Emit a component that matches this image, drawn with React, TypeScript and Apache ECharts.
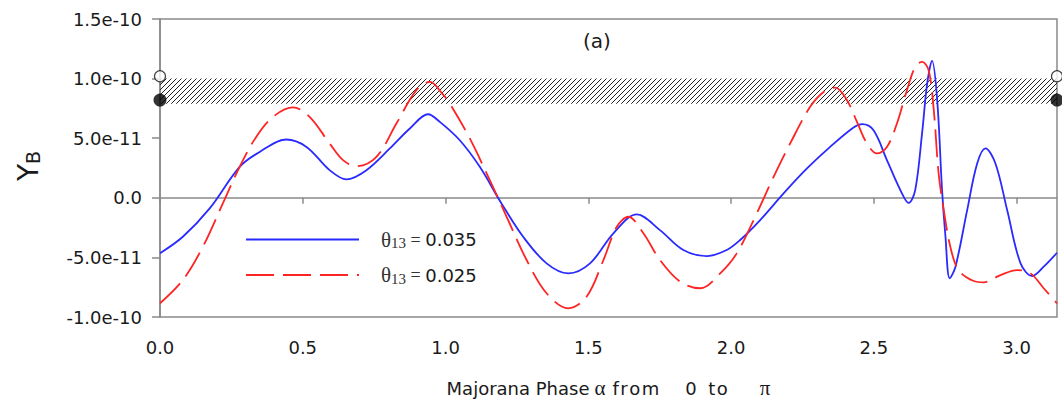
import React, { useEffect, useRef } from 'react';
import * as echarts from 'echarts';

// values of Y_B are in units of 1e-11
const blueAlpha = [0, 0.08, 0.174, 0.279, 0.349, 0.442, 0.513, 0.594, 0.653, 0.723, 0.805, 0.875, 0.939, 0.98, 1.05, 1.12, 1.196, 1.272, 1.354, 1.43, 1.506, 1.588, 1.67, 1.751, 1.833, 1.915, 1.985, 2.032, 2.102, 2.184, 2.266, 2.347, 2.429, 2.459, 2.499, 2.546, 2.593, 2.622, 2.645, 2.669, 2.687, 2.704, 2.722, 2.739, 2.751, 2.766, 2.786, 2.827, 2.862, 2.891, 2.926, 2.967, 3.014, 3.055, 3.095, 3.1416];
const blueYB = [-4.65, -3.27, -0.89, 2.6, 3.85, 4.89, 4.27, 2.32, 1.54, 2.32, 4.14, 5.81, 7.01, 6.37, 4.83, 2.6, -0.47, -3.27, -5.5, -6.34, -5.5, -2.98, -1.39, -2.71, -4.38, -4.89, -4.38, -3.54, -1.87, 0.37, 2.46, 4.27, 5.9, 6.18, 5.67, 3.16, 0.65, -0.42, 0.65, 5.4, 9.59, 11.49, 8.19, 0.65, -3.27, -6.75, -5.78, -1.03, 2.88, 4.14, 2.88, -1.03, -5.5, -6.56, -5.78, -4.61];

const redAlpha = [0, 0.08, 0.15, 0.22, 0.279, 0.337, 0.396, 0.466, 0.524, 0.594, 0.641, 0.688, 0.758, 0.828, 0.898, 0.945, 0.99, 1.015, 1.085, 1.155, 1.214, 1.284, 1.354, 1.43, 1.494, 1.553, 1.6, 1.64, 1.693, 1.751, 1.822, 1.892, 1.962, 2.02, 2.09, 2.149, 2.207, 2.277, 2.324, 2.365, 2.406, 2.441, 2.476, 2.511, 2.546, 2.581, 2.616, 2.645, 2.669, 2.692, 2.71, 2.727, 2.745, 2.768, 2.797, 2.85, 2.885, 2.944, 3.002, 3.049, 3.095, 3.1416];
const redYB = [-8.85, -6.9, -4.11, -0.47, 2.6, 5.11, 6.79, 7.58, 6.79, 4.56, 3.16, 2.66, 3.44, 6.23, 9.03, 9.72, 8.7, 7.91, 4.98, 1.48, -1.59, -5.22, -8.01, -9.27, -8.3, -5.22, -2.43, -1.59, -2.98, -5.22, -7.04, -7.59, -6.34, -4.66, -1.31, 1.76, 4.56, 7.63, 8.88, 9.25, 8.19, 6.37, 4.56, 3.72, 4.27, 6.23, 9.03, 10.98, 11.4, 10.7, 7.35, 2.04, -1.03, -4.11, -6.06, -6.98, -7.09, -6.48, -6.06, -6.34, -7.59, -8.85];

const seriesNames = ['θ13 = 0.035', 'θ13 = 0.025'];
const legendValues = ['0.035', '0.025'];

const xTickValues = [0, 0.5, 1.0, 1.5, 2.0, 2.5, 3.0];
const xTickLabels = ['0.0', '0.5', '1.0', '1.5', '2.0', '2.5', '3.0'];
const yTickValues = [-10, -5, 0, 5, 10, 15];
const yTickLabels = ['-1.0e-10', '-5.0e-11', '0.0', '5.0e-11', '1.0e-10', '1.5e-10'];

const bandLow = 7.9;
const bandHigh = 10.0;
const markerAlpha = [0, Math.PI];
const openMarkerYB = 10.2;
const filledMarkerYB = 8.2;

const FONT = '"DejaVu Sans", sans-serif';
const SERIF = '"Liberation Serif", "DejaVu Serif", serif';
const GRAY = '#8a8a8a';
const TEXT = '#1a1a1a';

function makeHatch(): HTMLCanvasElement {
  const c = document.createElement('canvas');
  c.width = 5;
  c.height = 5;
  const ctx = c.getContext('2d')!;
  ctx.strokeStyle = '#222';
  ctx.lineWidth = 1;
  ctx.beginPath();
  ctx.moveTo(0, 5); ctx.lineTo(5, 0);
  ctx.moveTo(-1, 1); ctx.lineTo(1, -1);
  ctx.moveTo(4, 6); ctx.lineTo(6, 4);
  ctx.stroke();
  return c;
}

const nameTok = (padLeft: number, family = FONT, size = 18) => ({
  fontFamily: family, fontSize: size, color: TEXT, lineHeight: 22, padding: [0, 0, 0, padLeft],
});

export default function App() {
  const ref = useRef<HTMLDivElement>(null);
  useEffect(() => {
    if (!ref.current) return;
    const chart = echarts.init(ref.current, null, { renderer: 'svg' });
    const hatch = makeHatch();
    const option: any = {
      animation: false,
      backgroundColor: '#ffffff',
      grid: { left: 160, right: 5, top: 19, bottom: 92, show: true, borderColor: GRAY, borderWidth: 1.5 },
      xAxis: {
        type: 'value', min: 0, max: Math.PI,
        name: '{a|Majorana Phase}{g|α}{b|f}{l|r}{l|o}{l|m}{c|0}{d|t}{l|o}{p|π}',
        nameLocation: 'middle', nameGap: 60,
        nameTextStyle: {
          rich: {
            a: nameTok(0),
            g: nameTok(5, SERIF, 21),
            b: nameTok(7),
            l: nameTok(1.5),
            c: nameTok(26),
            d: nameTok(11.5),
            p: nameTok(32, SERIF, 21),
          },
        },
        axisLine: { show: true, lineStyle: { color: GRAY, width: 1.5 } },
        axisTick: { show: true, length: 6, customValues: xTickValues, lineStyle: { color: GRAY, width: 1.5 } },
        axisLabel: {
          customValues: xTickValues, margin: 20, fontFamily: FONT, fontSize: 18, color: TEXT, lineHeight: 20,
          formatter: (v: number) => { const i = xTickValues.findIndex((t) => Math.abs(t - v) < 1e-6); return i >= 0 ? xTickLabels[i] : ''; },
        },
        splitLine: { show: false },
      },
      yAxis: {
        type: 'value', min: -10, max: 15, interval: 5,
        axisLine: { show: true, lineStyle: { color: GRAY, width: 1.5 } },
        axisTick: { show: true, length: 8, lineStyle: { color: GRAY, width: 1.5 } },
        axisLabel: {
          margin: 18, fontFamily: FONT, fontSize: 18, color: TEXT,
          formatter: (v: number) => { const i = yTickValues.findIndex((t) => Math.abs(t - v) < 1e-6); return i >= 0 ? yTickLabels[i] : ''; },
        },
        splitLine: { show: false },
      },
      legend: {
        data: seriesNames, orient: 'vertical', left: 240, top: 224, itemWidth: 113, itemHeight: 12, itemGap: 14,
        itemStyle: { opacity: 0, color: 'rgba(0,0,0,0)', borderWidth: 0 },
        formatter: (name: string) => { const i = seriesNames.indexOf(name); return `{t|θ}{s|13}{q| = }{e|${legendValues[i]}}`; },
        textStyle: {
          padding: [0, 0, 0, 17],
          rich: {
            t: { fontFamily: SERIF, fontSize: 21, color: '#333', lineHeight: 22, verticalAlign: 'middle' },
            s: { fontFamily: SERIF, fontSize: 15, color: '#333', lineHeight: 22, verticalAlign: 'bottom' },
            q: { fontFamily: SERIF, fontSize: 18, color: '#333', lineHeight: 22 },
            e: { fontFamily: FONT, fontSize: 18, color: TEXT, lineHeight: 22 },
          },
        },
      },
      graphic: [
        { type: 'text', x: 597, y: 41, style: { text: '(a)', font: `20px ${FONT}`, fill: TEXT, align: 'center', verticalAlign: 'middle' } },
        {
          type: 'text', x: 42, y: 166, rotation: Math.PI / 2,
          style: {
            text: '{y|Y}{b|B}', align: 'center', verticalAlign: 'bottom',
            rich: {
              y: { fontFamily: FONT, fontSize: 28, fill: TEXT, lineHeight: 30, verticalAlign: 'bottom' },
              b: { fontFamily: FONT, fontSize: 19, fill: TEXT, lineHeight: 30, verticalAlign: 'bottom' },
            },
          },
        },
      ],
      series: [
        {
          name: seriesNames[0], type: 'line', data: blueAlpha.map((a, i) => [a, blueYB[i]]),
          showSymbol: false, symbol: 'none', smooth: 0.35, z: 3,
          lineStyle: { color: '#2a2aff', width: 1.8 }, itemStyle: { color: '#2a2aff' },
          markArea: {
            silent: true,
            itemStyle: { color: { image: hatch, repeat: 'repeat', imageWidth: 5, imageHeight: 5 }, borderWidth: 0 },
            data: [[{ yAxis: bandLow }, { yAxis: bandHigh }]],
          },
        },
        {
          name: seriesNames[1], type: 'line', data: redAlpha.map((a, i) => [a, redYB[i]]),
          showSymbol: false, symbol: 'none', smooth: 0.35, z: 3,
          lineStyle: { color: '#ff2424', width: 1.8, type: [28, 9] }, itemStyle: { color: '#ff2424' },
        },
        {
          name: 'open', type: 'scatter', data: markerAlpha.map((a) => [a, openMarkerYB]), clip: false, silent: true, z: 6,
          symbol: 'circle', symbolSize: 11, itemStyle: { color: '#ffffff', borderColor: '#111', borderWidth: 1.2 },
        },
        {
          name: 'filled', type: 'scatter', data: markerAlpha.map((a) => [a, filledMarkerYB]), clip: false, silent: true, z: 6,
          symbol: 'circle', symbolSize: 13, itemStyle: { color: '#000000' },
        },
      ],
    };
    chart.setOption(option);
    return () => chart.dispose();
  }, []);
  return <div ref={ref} style={{ position: 'absolute', left: 0, top: 0, width: 1062, height: 409, background: '#fff' }} />;
}
